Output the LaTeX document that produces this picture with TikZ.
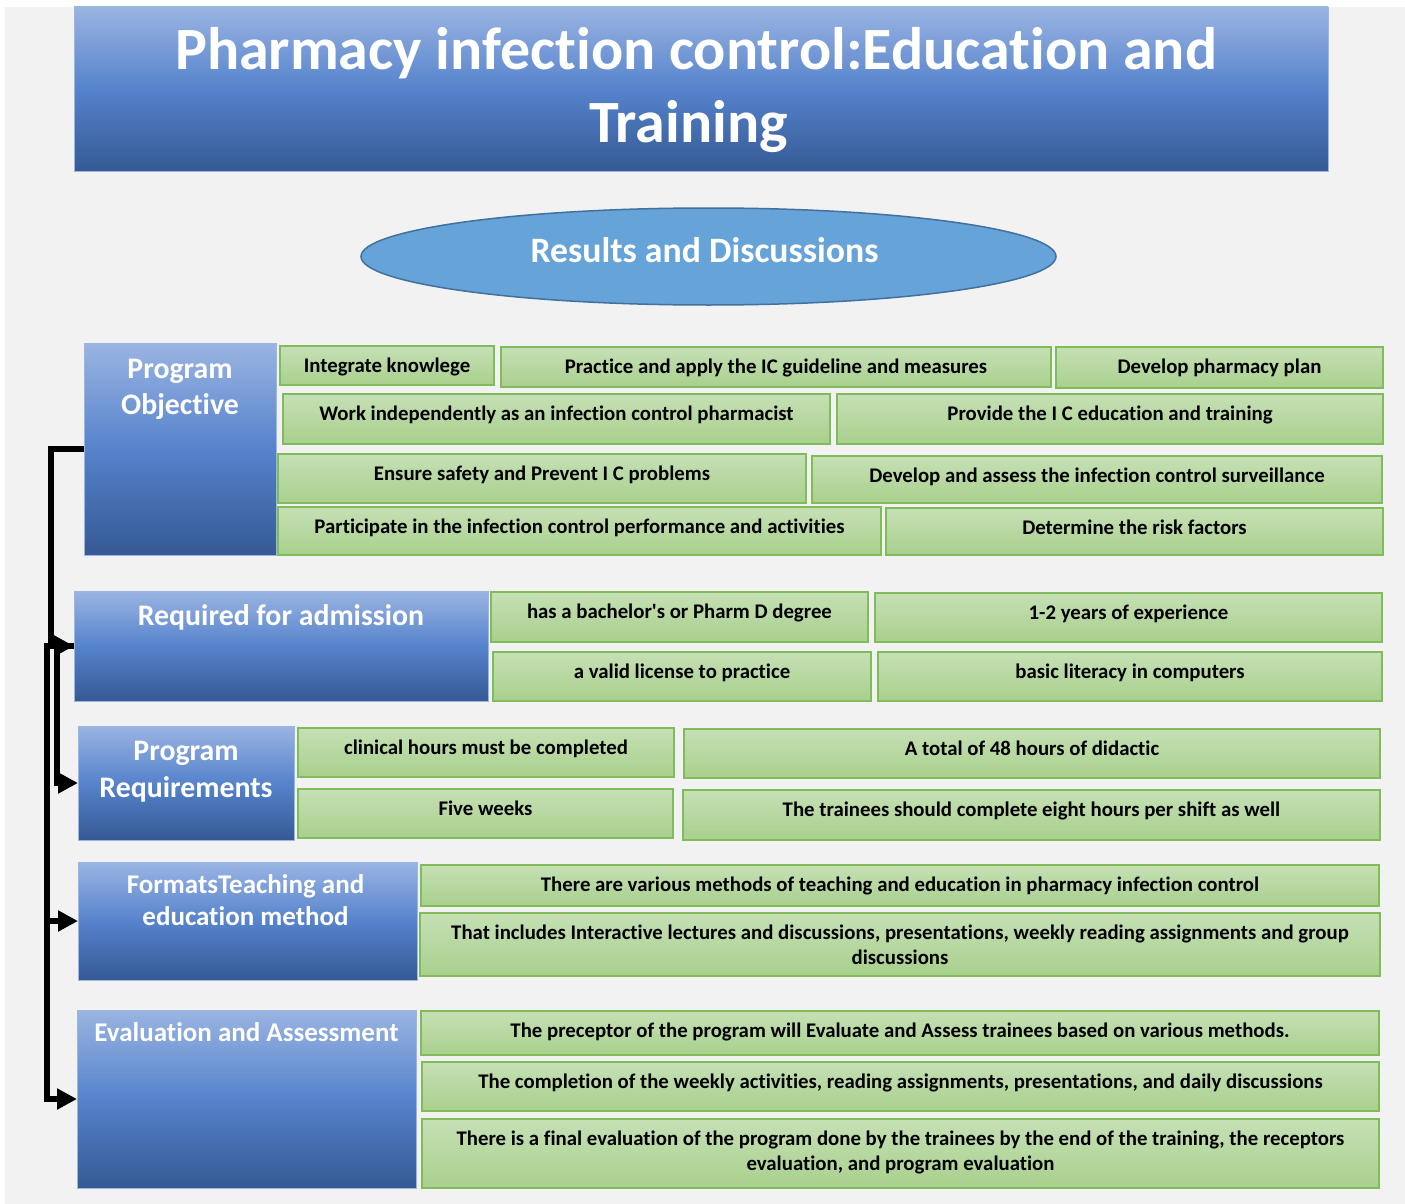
\documentclass[tikz,border=0pt]{standalone}
\usepackage{fontspec}
\setmainfont{Carlito}[Ligatures={NoCommon,NoContextual}]
\usetikzlibrary{shapes.geometric,arrows.meta}

\definecolor{pagebg}{HTML}{F2F2F2}
\definecolor{btop}{HTML}{9AB4E2}
\definecolor{bmid}{HTML}{5683CC}
\definecolor{bbot}{HTML}{355994}
\definecolor{bline}{HTML}{9DB6E0}
\definecolor{gtop}{HTML}{C6E0B5}
\definecolor{gbot}{HTML}{A8D08D}
\definecolor{gline}{HTML}{80BC5A}
\definecolor{ovalfill}{HTML}{65A3D9}
\definecolor{ovalline}{HTML}{41719C}

% fixed-size cell, text hanging from the top: width, height, first baseline, text
\newcommand\cellbox[4]{\parbox[c][#2][t]{#1}{\centering\rule{0pt}{#3}#4\par}}
\newcommand\itemtext[3]{\cellbox{#1}{#2}{26pt}{#3}}

\tikzset{
  hdr/.style={draw=bline, line width=0.8pt, top color=btop, bottom color=bbot,
    middle color=bmid, inner sep=0pt, outer sep=0pt, anchor=north west, text=white},
  hdrbig/.style={font=\fontsize{29.8pt}{36pt}\selectfont\bfseries},
  hdrsmall/.style={font=\fontsize{27pt}{32pt}\selectfont\bfseries},
  item/.style={draw=gline, line width=1.3pt, top color=gtop, bottom color=gbot,
    inner sep=0pt, outer sep=0pt, anchor=north west, text=black,
    font=\fontsize{20.8pt}{25pt}\selectfont\bfseries},
  link/.style={line width=6pt, line join=miter, -{Triangle[length=20pt,width=20pt]}},
}

\begin{document}
\begin{tikzpicture}[x=1pt, y=-1pt]
\useasboundingbox (0,0) rectangle (1405,1204);
\fill[pagebg] (5,7) rectangle (1405,1204);

% banner
\node[hdr, font=\fontsize{60pt}{73pt}\selectfont\bfseries] (title) at (74,7)
  {\cellbox{1254pt}{164pt}{63pt}{Pharmacy infection control:Education and\kern10pt\\Training\kern25pt}};

\node[ellipse, draw=ovalline, line width=1.5pt, fill=ovalfill, minimum width=695pt,
  minimum height=97pt, inner sep=0pt, text=white, text height=25pt, text depth=14pt,
  font=\fontsize{35.7pt}{42pt}\selectfont\bfseries] (results) at (708.5,256.5)
  {Results and Discussions\kern8pt};

% program objective
\node[hdr, hdrbig] (po) at (84,343) {\cellbox{192pt}{212pt}{35pt}{Program\\Objective}};
\node[item] (o1) at (280,346) {\itemtext{214pt}{39pt}{Integrate knowlege}};
\node[item] (o2) at (501,347) {\itemtext{550pt}{40pt}{Practice and apply the IC guideline and measures}};
\node[item] (o3) at (1056,347) {\itemtext{327pt}{41pt}{Develop pharmacy plan}};
\node[item] (o4) at (283,394) {\itemtext{547pt}{50pt}{Work independently as an infection control pharmacist}};
\node[item] (o5) at (837,394) {\itemtext{546pt}{50pt}{Provide the I C education and training}};
\node[item] (o6) at (278,454) {\itemtext{528pt}{49pt}{Ensure safety and Prevent I C problems}};
\node[item] (o7) at (812,456) {\itemtext{570pt}{47pt}{Develop and assess the infection control surveillance}};
\node[item] (o8) at (278,507) {\itemtext{603pt}{48pt}{Participate in the infection control performance and activities}};
\node[item] (o9) at (886,508) {\itemtext{497pt}{47pt}{Determine the risk factors}};

% admission
\node[hdr, hdrbig] (req) at (74,591) {\cellbox{414pt}{110pt}{34pt}{Required for admission}};
\node[item] (r1) at (491,592) {\itemtext{377pt}{50pt}{has a bachelor\textquotesingle s or Pharm D degree}};
\node[item] (r2) at (875,593) {\itemtext{507pt}{49pt}{1-2 years of experience}};
\node[item] (r3) at (493,652) {\itemtext{378pt}{49pt}{a valid license to practice}};
\node[item] (r4) at (878,652) {\itemtext{504pt}{49pt}{basic literacy in computers}};

% program requirements
\node[hdr, font=\fontsize{29.8pt}{37pt}\selectfont\bfseries] (preq) at (78,726)
  {\cellbox{216pt}{114pt}{34pt}{Program\\Requirements}};
\node[item] (p1) at (298,728) {\itemtext{376pt}{49pt}{clinical hours must be completed}};
\node[item] (p2) at (684,729) {\itemtext{696pt}{49pt}{A total of 48 hours of didactic}};
\node[item] (p3) at (298,789) {\itemtext{375pt}{49pt}{Five weeks}};
\node[item] (p4) at (683,790) {\itemtext{697pt}{50pt}{The trainees should complete eight hours per shift as well}};

% teaching formats
\node[hdr, hdrsmall] (fmt) at (78,862) {\cellbox{339pt}{118pt}{31pt}{FormatsTeaching and\kern4pt\\education method\kern4pt}};
\node[item] (f1) at (421,865) {\itemtext{958pt}{41pt}{There are various methods of teaching and education in pharmacy infection control}};
\node[item] (f2) at (420,913) {\itemtext{960pt}{63pt}{That includes Interactive lectures and discussions, presentations, weekly reading assignments and group\\discussions}};

% evaluation
\node[hdr, hdrsmall] (eval) at (77,1010) {\cellbox{339pt}{178pt}{31pt}{Evaluation and Assessment}};
\node[item] (e1) at (421,1011) {\itemtext{958pt}{44pt}{The preceptor of the program will Evaluate and Assess trainees based on various methods.}};
\node[item] (e2) at (422,1062) {\itemtext{957pt}{49pt}{The completion of the weekly activities, reading assignments, presentations, and daily discussions}};
\node[item] (e3) at (422,1119) {\itemtext{957pt}{69pt}{There is a final evaluation of the program done by the trainees by the end of the training, the receptors\\evaluation, and program evaluation}};

% elbow connectors
\draw[link] (req.west) -- ++(-17,0) |- (preq.west);
\draw[link] (req.west) -- ++(-27,0) |- (fmt.west);
\draw[link] (req.west) -- ++(-27,0) |- (eval.west);
\draw[link] (po.west) -- ++(-33,0) |- (req.west);
\end{tikzpicture}
\end{document}
